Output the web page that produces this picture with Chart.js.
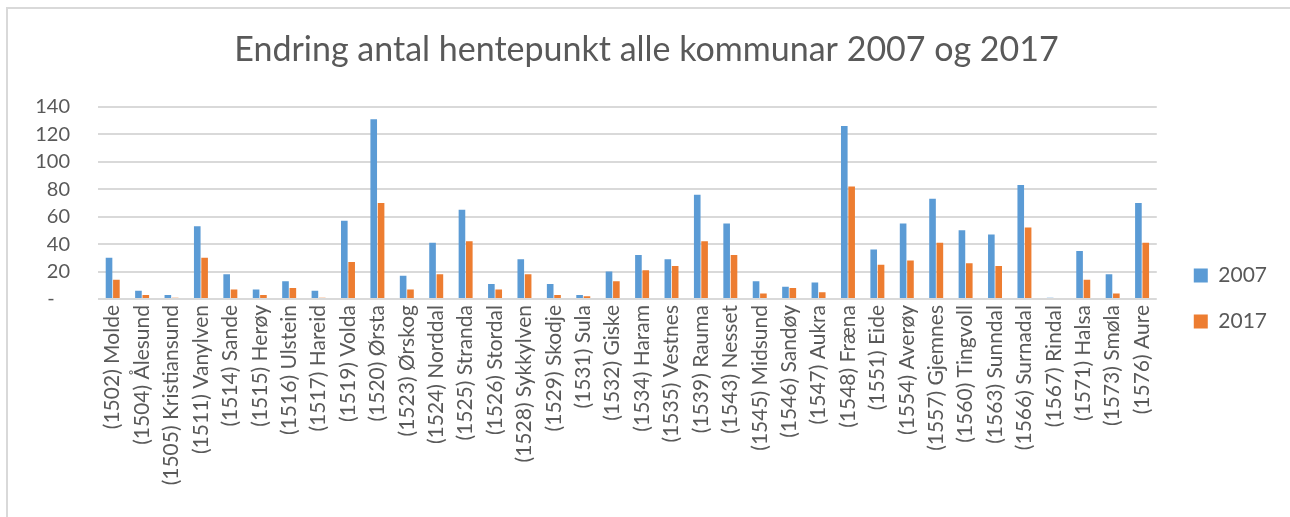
<!DOCTYPE html>
<html>
<head>
<meta charset="utf-8">
<script src="https://cdn.jsdelivr.net/npm/chart.js@4"></script>
<style>
    html, body { margin: 0; padding: 0; background: #fff; overflow: hidden; }
    #frame { position: absolute; left: 6px; top: 7px; width: 1320px; height: 540px; border: 2px solid #d9d9d9; box-sizing: border-box; }
    #wrap { position: absolute; left: 0; top: 0; width: 1290px; height: 517px; }
</style>
</head>
<body>
<div id="frame"></div>
<div id="wrap"><canvas id="chartHentepunkt"></canvas></div>
<script>
// Kommunar (kategoriar)
const kommunar = [
    "(1502) Molde", "(1504) Ålesund", "(1505) Kristiansund", "(1511) Vanylven", "(1514) Sande",
    "(1515) Herøy", "(1516) Ulstein", "(1517) Hareid", "(1519) Volda", "(1520) Ørsta",
    "(1523) Ørskog", "(1524) Norddal", "(1525) Stranda", "(1526) Stordal", "(1528) Sykkylven",
    "(1529) Skodje", "(1531) Sula", "(1532) Giske", "(1534) Haram", "(1535) Vestnes",
    "(1539) Rauma", "(1543) Nesset", "(1545) Midsund", "(1546) Sandøy", "(1547) Aukra",
    "(1548) Fræna", "(1551) Eide", "(1554) Averøy", "(1557) Gjemnes", "(1560) Tingvoll",
    "(1563) Sunndal", "(1566) Surnadal", "(1567) Rindal", "(1571) Halsa", "(1573) Smøla",
    "(1576) Aure"
];

// Antal hentepunkt
const verdi2007 = [30, 6, 3, 53, 18, 7, 13, 6, 57, 131, 17, 41, 65, 11, 29, 11, 3, 20, 32, 29,
    76, 55, 13, 9, 12, 126, 36, 55, 73, 50, 47, 83, 1, 35, 18, 70];
const verdi2017 = [14, 3, 1, 30, 7, 3, 8, 1, 27, 70, 7, 18, 42, 7, 18, 3, 2, 13, 21, 24,
    42, 32, 4, 8, 5, 82, 25, 28, 41, 26, 24, 52, 0, 14, 4, 41];

const yTicks = [0, 20, 40, 60, 80, 100, 120, 140];

const tekstFarge = "#595959";
const gridFarge = "#d9d9d9";

// Flytt forklaringa og tittelen litt, slik som i Excel
const flyttBoksar = {
    id: "flyttBoksar",
    afterLayout(chart) {
        const lg = chart.legend;
        if (lg) {
            lg.top += 40; lg.bottom += 40;
            lg.left += 12; lg.right += 12;
        }
        const tb = chart.titleBlock;
        if (tb) { tb.left += 14; tb.right += 14; }
    }
};

const ctx = document.getElementById("chartHentepunkt").getContext("2d");
new Chart(ctx, {
    type: "bar",
    data: {
        labels: kommunar,
        datasets: [
            { label: "2007", data: verdi2007, backgroundColor: "#5b9bd5" },
            { label: "2017", data: verdi2017, backgroundColor: "#ed7d31" }
        ]
    },
    plugins: [flyttBoksar],
    options: {
        responsive: true,
        maintainAspectRatio: false,
        animation: false,
        datasets: { bar: { categoryPercentage: 0.5, barPercentage: 0.9 } },
        layout: { padding: { left: 0, right: 25, top: 0, bottom: 0 } },
        plugins: {
            title: {
                display: true,
                text: "Endring antal hentepunkt alle kommunar 2007 og 2017",
                color: tekstFarge,
                font: { family: "Lato", size: 34, weight: "normal" },
                padding: { top: 30, bottom: 36 }
            },
            legend: {
                position: "right",
                labels: {
                    color: tekstFarge,
                    font: { family: "Lato", size: 21 },
                    boxWidth: 14,
                    boxHeight: 14,
                    padding: 25
                }
            },
            tooltip: { enabled: false }
        },
        scales: {
            x: {
                grid: { display: false, drawTicks: false },
                border: { display: false },
                ticks: {
                    color: tekstFarge,
                    font: { family: "Lato", size: 21 },
                    minRotation: 90,
                    maxRotation: 90,
                    autoSkip: false,
                    padding: 6
                },
                afterFit: scale => { scale.height = 218; }
            },
            y: {
                min: 0,
                max: 140,
                afterBuildTicks: scale => { scale.ticks = yTicks.map(v => ({ value: v })); },
                grid: { color: gridFarge, lineWidth: 2, drawTicks: false },
                border: { display: false },
                ticks: {
                    color: tekstFarge,
                    font: { family: "Lato", size: 20 },
                    padding: 28,
                    callback: v => v === 0 ? "-   " : v
                },
                afterFit: scale => { scale.width = 98; }
            }
        }
    }
});
</script>
</body>
</html>
